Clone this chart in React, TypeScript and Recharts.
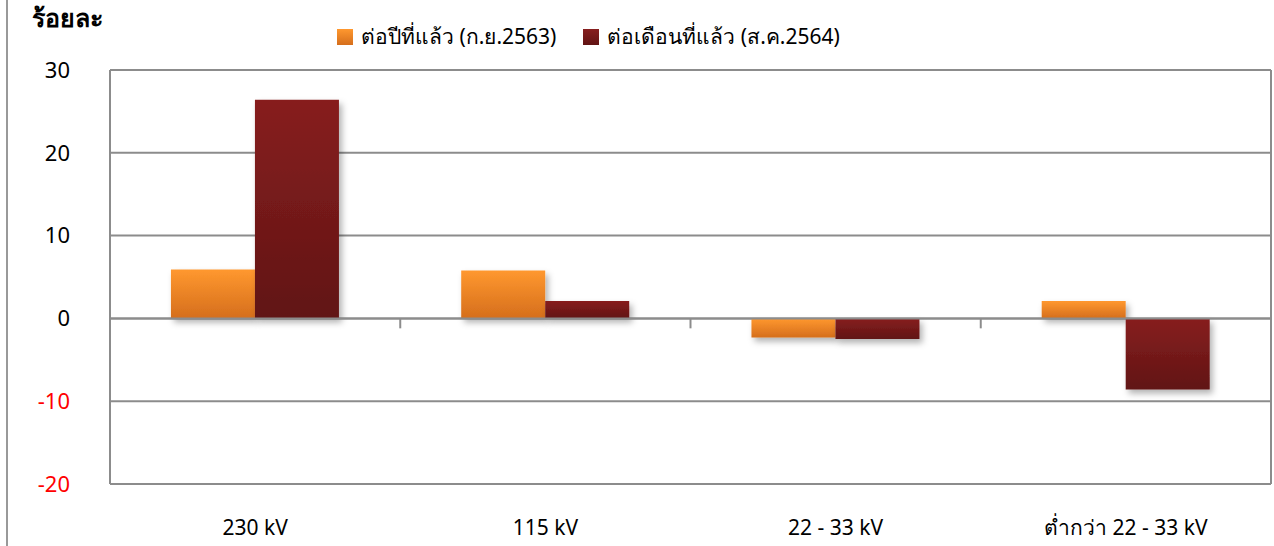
import { BarChart, Bar, XAxis, YAxis, CartesianGrid, ReferenceLine } from "recharts";

const categories = ["230 kV", "115 kV", "22 - 33 kV", "ต่ำกว่า 22 - 33 kV"];
const yoyValues = [5.9, 5.8, -2.3, 2.1];
const momValues = [26.4, 2.1, -2.5, -8.6];
const seriesNames = ["ต่อปีที่แล้ว (ก.ย.2563)", "ต่อเดือนที่แล้ว (ส.ค.2564)"];
const yTicks = [-20, -10, 0, 10, 20, 30];

const data = categories.map((name, i) => ({ name, yoy: yoyValues[i], mom: momValues[i] }));

const FONT = "'Noto Sans', 'DejaVu Sans', sans-serif";
const GRID = "#8c8c8c";

const YTick = ({ x, y, payload }: any) => (
  <text
    x={x}
    y={y}
    dy="0.35em"
    textAnchor="end"
    fontSize={22}
    fontFamily={FONT}
    fill={payload.value < 0 ? "#ff0000" : "#000"}
  >
    {payload.value}
  </text>
);

const XTick = ({ x, y, payload }: any) => (
  <text x={x} y={y} dy="0.71em" textAnchor="middle" fontSize={21} fontFamily={FONT} fill="#000">
    {payload.value}
  </text>
);

const swatches = [
  "linear-gradient(#ff982f, #d56e1c)",
  "linear-gradient(#871f1f, #611414)",
];

export default function App() {
  return (
    <div style={{ position: "absolute", left: 0, top: 0, width: 1274, height: 546, overflow: "hidden", background: "#fff", fontFamily: FONT }}>
      <div style={{ position: "absolute", left: 6, top: 0, width: 2, height: 546, background: "#999" }} />
      <div style={{ position: "absolute", left: 32, top: 0, fontSize: 25, fontWeight: 700, color: "#000", lineHeight: "34px" }}>ร้อยละ</div>
      <div style={{ position: "absolute", left: 337, top: 20, display: "flex", alignItems: "center", fontSize: 21, color: "#000" }}>
        {seriesNames.map((n, i) => (
          <div key={n} style={{ display: "flex", alignItems: "center", marginRight: 27 }}>
            <span style={{ width: 16, height: 16, background: swatches[i], marginRight: 8, display: "inline-block" }} />
            <span>{n}</span>
          </div>
        ))}
      </div>
      <BarChart
        width={1274}
        height={546}
        data={data}
        margin={{ top: 70, right: 3, bottom: 0, left: 0 }}
        barCategoryGap="21%"
        barGap={0}
      >
        <defs>
          <linearGradient id="gOrange" x1="0" y1="0" x2="0" y2="1">
            <stop offset="0%" stopColor="#ff982f" />
            <stop offset="100%" stopColor="#d56e1c" />
          </linearGradient>
          <linearGradient id="gRed" x1="0" y1="0" x2="0" y2="1">
            <stop offset="0%" stopColor="#871f1f" />
            <stop offset="100%" stopColor="#611414" />
          </linearGradient>
          <filter id="shadow" filterUnits="userSpaceOnUse" x="0" y="0" width="1274" height="546">
            <feDropShadow dx="3" dy="4" stdDeviation="3" floodColor="#000" floodOpacity="0.3" />
          </filter>
        </defs>
        <CartesianGrid vertical={false} stroke={GRID} strokeWidth={2} />
        <XAxis
          dataKey="name"
          axisLine={false}
          tickLine={false}
          tickSize={0}
          tickMargin={36}
          height={62}
          tick={<XTick />}
        />
        <YAxis
          domain={[-20, 30]}
          ticks={yTicks}
          width={110}
          axisLine={{ stroke: GRID, strokeWidth: 2 }}
          tickLine={false}
          tickSize={0}
          tickMargin={40}
          tick={<YTick />}
        />
        <Bar dataKey="yoy" name={seriesNames[0]} fill="url(#gOrange)" filter="url(#shadow)" isAnimationActive={false} />
        <Bar dataKey="mom" name={seriesNames[1]} fill="url(#gRed)" filter="url(#shadow)" isAnimationActive={false} />
        <ReferenceLine y={0} stroke={GRID} strokeWidth={2} />
        <ReferenceLine x={categories[categories.length - 1]} position="end" stroke={GRID} strokeWidth={2} />
        {categories.slice(1).map((c) => (
          <ReferenceLine
            key={c}
            position="start"
            segment={[{ x: c, y: 0 }, { x: c, y: -1.2 }]}
            stroke={GRID}
            strokeWidth={2}
          />
        ))}
      </BarChart>
    </div>
  );
}
